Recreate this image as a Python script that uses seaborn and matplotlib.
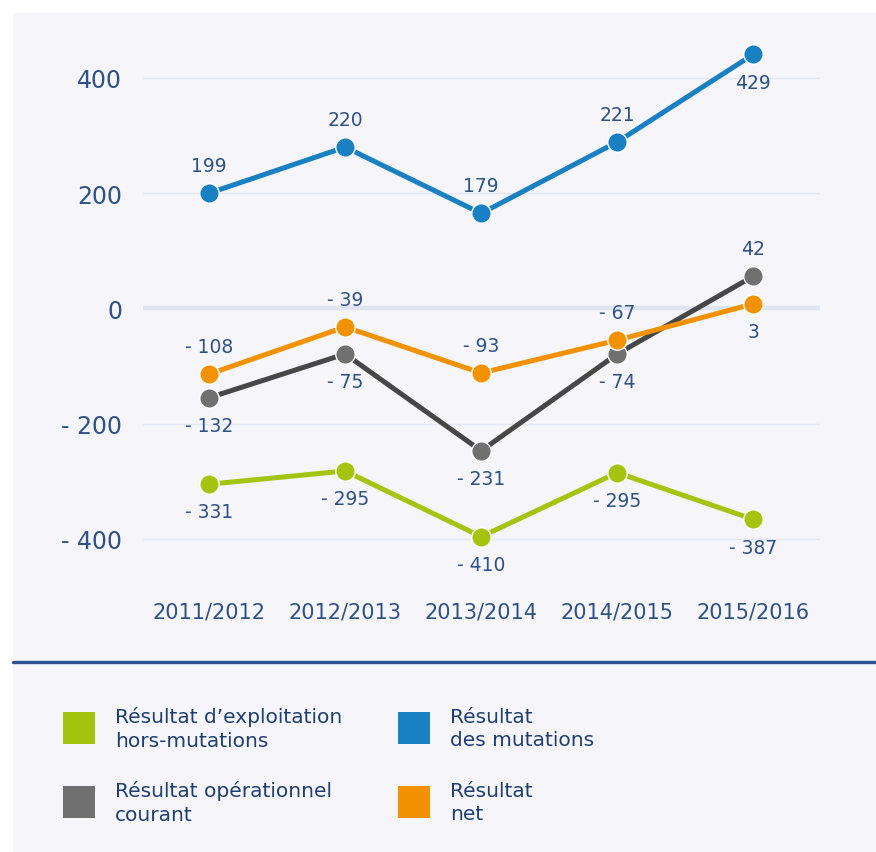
import matplotlib
matplotlib.use("Agg")
import matplotlib.pyplot as plt
from matplotlib.patches import Rectangle
import seaborn as sns
import pandas as pd

# Données
exercices = ["2011/2012", "2012/2013", "2013/2014", "2014/2015", "2015/2016"]

# position des points telle que dessinée sur le graphique
mutations = [200, 280, 165, 289, 441]
net = [-114, -32, -112, -55, 8]
courant = [-155, -79, -247, -79, 56]
exploitation = [-305, -282, -396, -285, -366]

# valeurs affichées
lab_mutations = [199, 220, 179, 221, 429]
lab_net = [-108, -39, -93, -67, 3]
lab_courant = [-132, -75, -231, -74, 42]
lab_exploitation = [-331, -295, -410, -295, -387]

# position des étiquettes : 1 = au-dessus, -1 = en dessous
pos_mutations = [1, 1, 1, 1, -1]
pos_net = [1, 1, 1, 1, -1]
pos_courant = [-1, -1, -1, -1, 1]
pos_exploitation = [-1, -1, -1, -1, -1]

yticks = [400, 200, 0, -200, -400]

VERT = "#A5C40F"
BLEU = "#1980C3"
GRIS = "#707070"
GRIS_LIGNE = "#474747"
ORANGE = "#F29200"
TEXTE = "#2F5189"
LEGENDE = "#1F3E73"
FOND = "#F5F5FA"


def fmt(v):
    return f"- {abs(v)}" if v < 0 else f"{v}"


sns.set_style("white")
plt.rcParams["font.family"] = ["DejaVu Sans"]

W, H = 876, 853
fig = plt.figure(figsize=(W / 100, H / 100), dpi=100)
fig.patch.set_facecolor("white")

# panneau de fond
fond = Rectangle((13 / W, 0), 1 - 13 / W, 1 - 14 / H, transform=fig.transFigure,
                 facecolor=FOND, edgecolor="none", zorder=-5)
fig.patches.append(fond)
# ligne de séparation
fig.add_artist(plt.Line2D([13 / W, 1], [1 - 663 / H, 1 - 663 / H],
                          transform=fig.transFigure, color="#2F5290", lw=2.4, zorder=1))

ax = fig.add_axes([143 / W, 1 - 580 / H, (820 - 143) / W, (580 - 30) / H])
ax.set_facecolor("none")
ax.set_zorder(2)

x = list(range(len(exercices)))
series = [
    (mutations, lab_mutations, pos_mutations, BLEU, BLEU),
    (exploitation, lab_exploitation, pos_exploitation, VERT, VERT),
    (courant, lab_courant, pos_courant, GRIS_LIGNE, GRIS),
    (net, lab_net, pos_net, ORANGE, ORANGE),
]

for yt in yticks:
    if yt == 0:
        ax.axhline(0, color="#DFE4F2", lw=3.2, zorder=1)
    else:
        ax.axhline(yt, color="#E4E6F1", lw=1.0, zorder=1)

for i, (vals, labs, pos, lc, mc) in enumerate(series):
    df = pd.DataFrame({"x": x, "y": vals})
    sns.lineplot(data=df, x="x", y="y", ax=ax, color=lc, lw=3.6,
                 marker="o", markersize=14, markerfacecolor=mc,
                 markeredgecolor="white", markeredgewidth=1.0, zorder=3 + i)
    for xi, v, lab, p in zip(x, vals, labs, pos):
        ax.annotate(fmt(lab), (xi, v), xytext=(0, 20 * p), textcoords="offset points",
                    ha="center", va="center", fontsize=13.5, color=TEXTE, zorder=10)

ax.set_xlim(-0.485, 4.49)
ax.set_ylim(-469.5, 485)
ax.set_yticks(yticks)
ax.set_yticklabels([fmt(v) for v in yticks])
ax.set_xticks(x)
ax.set_xticklabels(exercices)
ax.set_xlabel("")
ax.set_ylabel("")
ax.tick_params(axis="both", length=0, colors=TEXTE)
ax.tick_params(axis="y", pad=15, labelsize=17)
ax.tick_params(axis="x", pad=16, labelsize=15)
sns.despine(ax=ax, left=True, bottom=True)

# légende
legende = [
    (VERT, "Résultat d’exploitation\nhors-mutations", 63, 713),
    (BLEU, "Résultat\ndes mutations", 398, 713),
    (GRIS, "Résultat opérationnel\ncourant", 63, 787),
    (ORANGE, "Résultat\nnet", 398, 787),
]
for couleur, texte, px, py in legende:
    fig.patches.append(Rectangle((px / W, 1 - (py + 32) / H), 32 / W, 32 / H,
                                 transform=fig.transFigure, facecolor=couleur,
                                 edgecolor="none", zorder=2))
    fig.text((px + 52) / W, 1 - (py + 16) / H, texte, ha="left", va="center",
             fontsize=14.5, color=LEGENDE, linespacing=1.32)

fig.savefig("out.png", dpi=100, facecolor=fig.get_facecolor())
